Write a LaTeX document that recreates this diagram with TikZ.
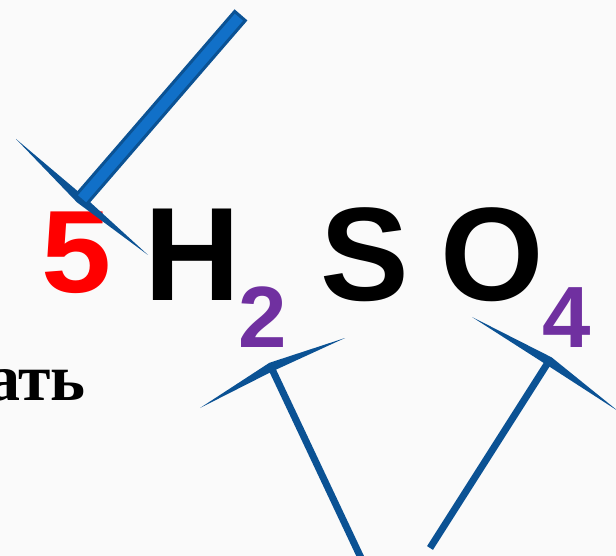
\documentclass[tikz,border=0pt]{standalone}
\usepackage{fontspec}
\setmainfont{Liberation Serif}
\newfontfamily\formulafont{Liberation Sans}
\usetikzlibrary{calc}
\definecolor{bgpaper}{RGB}{250,250,250}
\definecolor{markblue}{RGB}{11,82,148}
\definecolor{barblue}{RGB}{17,112,200}
\definecolor{indexpurple}{RGB}{112,48,160}
\definecolor{coefred}{RGB}{255,0,0}
\tikzset{
  symbol/.style={font=\formulafont\bfseries\fontsize{133}{133}\selectfont, inner sep=0pt, anchor=base},
  coef/.style={font=\formulafont\bfseries\fontsize{126}{126}\selectfont, inner sep=0pt, anchor=base, text=coefred},
  index/.style={font=\formulafont\bfseries\fontsize{87}{87}\selectfont, inner sep=0pt, anchor=base, text=indexpurple},
  wedgefill/.style={fill=markblue, draw=none},
  stem/.style={draw=markblue, line width=7pt, line cap=butt},
  bar/.style={fill=barblue, draw=markblue, line width=3pt, line join=miter},
}
% tapered stroke: tip #1, widest point #2, tip #3, half width #4
\newcommand\taperedstroke[4]{%
  \fill[wedgefill] (#1) -- ($(#2)!#4!90:(#3)$) -- (#3) -- ($(#2)!#4!-90:(#3)$) -- cycle;}
\begin{document}
\begin{tikzpicture}[x=1pt,y=-1pt]
  \fill[bgpaper] (0,0) rectangle (616,556);
  \useasboundingbox (0,0) rectangle (616,556);

  % formula 5 H2SO4
  \node[coef]   (n5) at (77,292) {\scalebox{1}[0.93]{5}};
  \node[symbol] (nH) at (192.5,300) {H};
  \node[index]  (n2) at (262.5,347) {2};
  \node[symbol] (nS) at (364.5,300) {S};
  \node[symbol] (nO) at (492.5,300) {O};
  \node[index]  (n4) at (566.5,347) {4};

  % word ending at the left edge
  \node[font=\bfseries\fontsize{66}{66}\selectfont, inner sep=0pt, anchor=base east] (word) at (86,400) {ать};

  % check mark over the coefficient
  \coordinate (c1a) at (16,139);
  \coordinate (c1m) at (80,199);
  \coordinate (c1b) at (148,255);
  \taperedstroke{c1a}{c1m}{c1b}{4.5pt}
  \coordinate (bartop) at (240,16);
  \coordinate (barbot) at (81,200);
  \draw[bar] ($(bartop)!7pt!90:(barbot)$) -- ($(bartop)!7pt!-90:(barbot)$)
    -- ($(barbot)!7pt!90:(bartop)$) -- ($(barbot)!7pt!-90:(bartop)$) -- cycle;

  % mark under index 2
  \coordinate (c2a) at (200,408);
  \coordinate (c2m) at (271,367);
  \coordinate (c2b) at (345,338);
  \taperedstroke{c2a}{c2m}{c2b}{4.5pt}
  \coordinate (c2end) at (362,560);
  \draw[stem] (c2m) -- (c2end);

  % mark under index 4
  \coordinate (c3a) at (472,317);
  \coordinate (c3m) at (549,361);
  \coordinate (c3b) at (618,411);
  \taperedstroke{c3a}{c3m}{c3b}{4.5pt}
  \coordinate (c3end) at (430,548);
  \draw[stem] (c3m) -- (c3end);
\end{tikzpicture}
\end{document}
